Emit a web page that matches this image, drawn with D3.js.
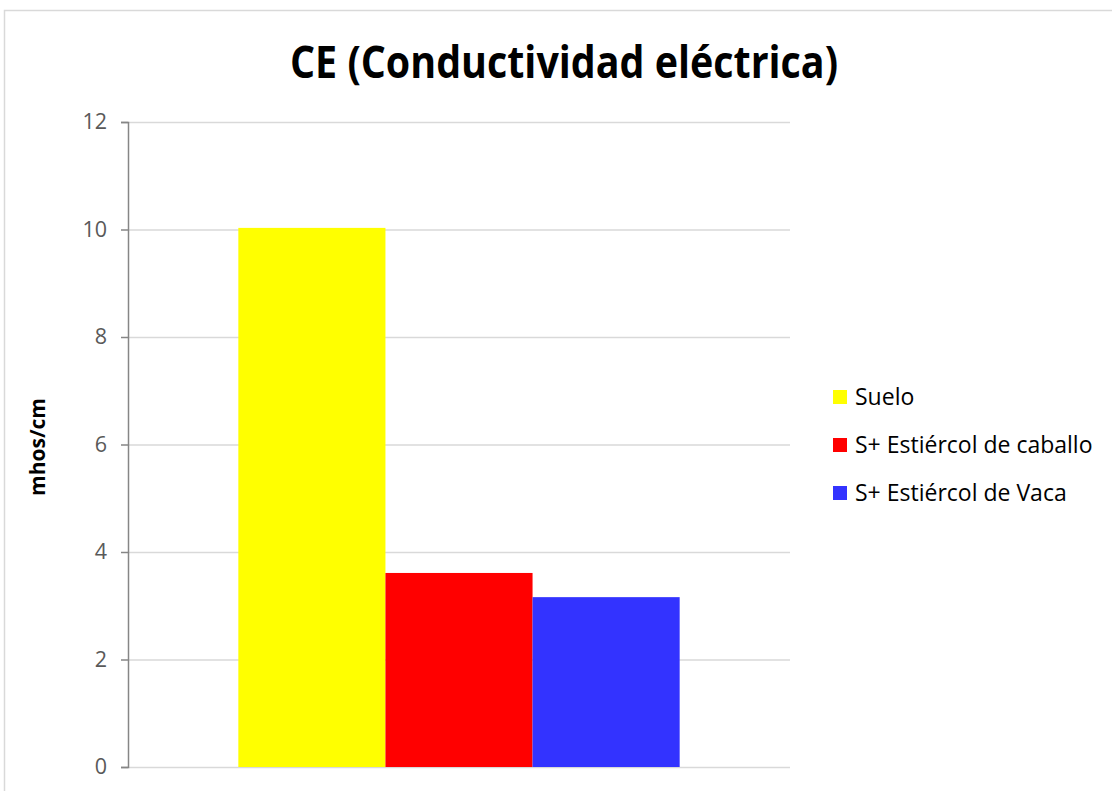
<!DOCTYPE html>
<meta charset="utf-8">
<script src="https://d3js.org/d3.v7.min.js"></script>
<style>
  body { margin: 0; background: #fff; }
  text { font-family: "Open Sans", sans-serif; }
</style>
<div id="main"></div>
<script>

var width = 1112
var height = 791

// data
var category = ["CE"]
var seriesNames = ["Suelo", "S+ Estiércol de caballo", "S+ Estiércol de Vaca"]
var seriesValues = [10.03, 3.61, 3.16]
var seriesColors = ["#ffff00", "#ff0000", "#3333ff"]
var yTicks = [0, 2, 4, 6, 8, 10, 12]

var svg = d3.select("#main")
  .append("svg")
    .attr("width", width)
    .attr("height", height)

// outer chart border (runs off the right/bottom edge)
svg.append("rect")
    .attr("x", 4.5)
    .attr("y", 10.5)
    .attr("width", 1130)
    .attr("height", 820)
    .attr("fill", "white")
    .attr("stroke", "#d9d9d9")
    .attr("stroke-width", 1.5)

var plot = { left: 128, right: 790, top: 122, bottom: 767 }

var y = d3.scaleLinear()
    .domain([0, 12])
    .range([plot.bottom, plot.top])

var x0 = d3.scaleBand()
    .domain(category)
    .range([plot.left, plot.right])
    .padding(0.2)

var x1 = d3.scaleBand()
    .domain(seriesNames)
    .range([0, x0.bandwidth()])

// gridlines
svg.append("g")
  .selectAll("line")
  .data(yTicks)
  .enter()
  .append("line")
    .attr("x1", plot.left)
    .attr("x2", plot.right)
    .attr("y1", d => y(d) + 0.5)
    .attr("y2", d => y(d) + 0.5)
    .attr("stroke", "#d9d9d9")
    .attr("stroke-width", 1.5)

// bars
var bars = seriesNames.map((name, i) => ({ name: name, value: seriesValues[i], color: seriesColors[i] }))
svg.append("g")
  .selectAll("rect")
  .data(bars)
  .enter()
  .append("rect")
    .attr("x", d => x0(category[0]) + x1(d.name))
    .attr("width", x1.bandwidth())
    .attr("y", d => y(d.value))
    .attr("height", d => y(0) - y(d.value))
    .attr("fill", d => d.color)

// y axis
var yAxis = svg.append("g")
    .attr("transform", "translate(" + plot.left + ",0)")
    .call(d3.axisLeft(y).tickValues(yTicks).tickSize(7).tickPadding(14))
yAxis.attr("font-size", null).attr("font-family", null)
yAxis.select(".domain").attr("stroke", "#868686").attr("stroke-width", 1.5)
yAxis.selectAll(".tick line").attr("stroke", "#868686").attr("stroke-width", 1.5)
yAxis.selectAll(".tick text")
    .attr("fill", "#595959")
    .style("font-size", "21.5px")
    .style("font-family", "'Open Sans', sans-serif")

// y axis title
svg.append("text")
    .attr("transform", "translate(45,447) rotate(-90)")
    .attr("text-anchor", "middle")
    .style("font-size", "21px")
    .style("font-weight", "bold")
    .text("mhos/cm")

// title
svg.append("text")
    .attr("x", 564)
    .attr("y", 78)
    .attr("text-anchor", "middle")
    .attr("textLength", 548)
    .attr("lengthAdjust", "spacingAndGlyphs")
    .style("font-size", "44px")
    .style("font-weight", "bold")
    .text("CE (Conductividad eléctrica)")

// legend
var legend = svg.append("g")
  .selectAll("g")
  .data(bars)
  .enter()
  .append("g")
    .attr("transform", (d, i) => "translate(833," + (397 + i * 48) + ")")
legend.append("rect")
    .attr("x", 0)
    .attr("y", -7)
    .attr("width", 14)
    .attr("height", 14)
    .attr("fill", d => d.color)
legend.append("text")
    .attr("x", 22)
    .attr("y", 8)
    .style("font-size", "23px")
    .attr("fill", "#000")
    .text(d => d.name)

</script>
